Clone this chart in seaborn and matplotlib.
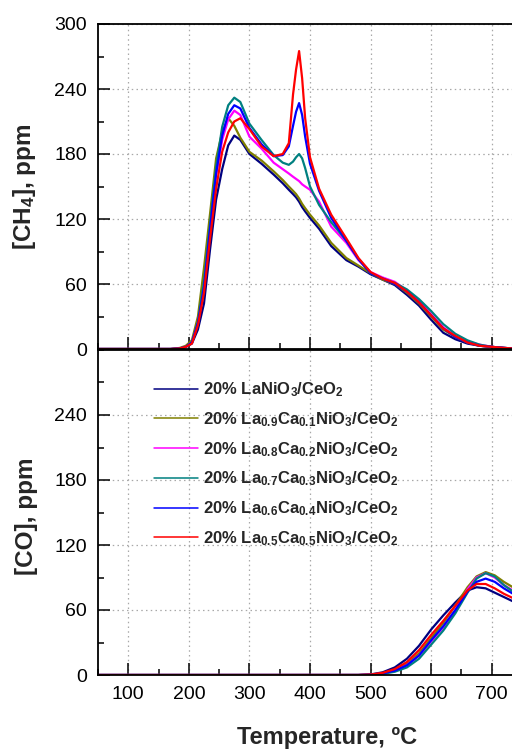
import matplotlib
matplotlib.use('Agg')
import matplotlib.pyplot as plt
from matplotlib.ticker import MultipleLocator
import pandas as pd
import seaborn as sns

# CH4 signal (top panel)
temp_ch4 = [50, 170, 185, 195, 205, 215, 225, 235, 245, 255, 265, 275, 285, 300, 320, 340, 355, 365,
            372, 377, 382, 387, 392, 400, 415, 435, 460, 480, 500, 520, 540, 560, 580, 600, 620, 640,
            660, 680, 700, 720, 735]
ch4_ca00 = [0, 0, 0.5, 2, 5, 18, 42, 92, 138, 166, 188, 197, 193, 180, 171, 161, 153, 147,
            143, 140, 136, 131, 127, 121, 111, 95, 82, 76, 69, 64, 59, 50, 40, 27, 15, 9,
            5, 3, 2, 1, 0.5]
ch4_ca01 = [0, 0, 1, 3, 8, 30, 75, 125, 176, 200, 213, 206, 195, 182, 174, 164, 156, 150,
            146, 143, 139, 134, 130, 124, 114, 98, 84, 77, 70, 64, 60, 52, 42, 30, 18, 11,
            6, 3, 2, 1, 0.5]
ch4_ca02 = [0, 0, 0.5, 2, 6, 24, 57, 110, 160, 193, 212, 220, 216, 196, 185, 172, 166, 162,
            159, 157, 155, 152, 150, 147, 136, 113, 98, 82, 71, 66, 62, 54, 44, 32, 20, 12,
            7, 4, 2, 1, 0.5]
ch4_ca03 = [0, 0, 0.5, 2, 6, 25, 62, 115, 168, 205, 225, 232, 228, 208, 193, 179, 172, 170,
            173, 177, 180, 176, 167, 150, 133, 117, 100, 83, 70, 65, 61, 55, 46, 35, 23, 14,
            8, 4, 2, 1, 0.5]
ch4_ca04 = [0, 0, 0.5, 2, 6, 24, 57, 111, 162, 197, 217, 225, 222, 204, 189, 178, 179, 187,
            206, 219, 227, 216, 196, 171, 146, 121, 100, 83, 70, 65, 60, 53, 43, 31, 19, 11,
            6, 3, 2, 1, 0.5]
ch4_ca05 = [0, 0, 0.5, 2, 5, 22, 52, 102, 148, 182, 200, 210, 213, 203, 187, 178, 180, 190,
            235, 258, 275, 250, 213, 177, 148, 124, 102, 84, 71, 65, 61, 53, 43, 31, 19, 12,
            6, 3, 2, 1, 0.5]

# CO signal (bottom panel)
temp_co = [50, 480, 500, 520, 540, 560, 580, 600, 620, 640, 660, 675, 690, 705, 720, 735]
co_ca00 = [0, 0, 0.5, 2.5, 7, 15, 27, 42, 55, 67, 78, 81, 80, 76, 72, 68]
co_ca01 = [0, 0, 0.3, 1.5, 4.5, 10, 20, 34, 48, 64, 81, 91, 95, 92, 86, 81]
co_ca02 = [0, 0, 0.3, 1.5, 4, 9, 18, 31, 44, 60, 79, 90, 94, 90, 83, 78]
co_ca03 = [0, 0, 0.2, 1, 3, 7, 15, 28, 41, 57, 76, 89, 94, 91, 83, 77]
co_ca04 = [0, 0, 0.3, 1.5, 4, 9, 18, 32, 45, 60, 77, 86, 89, 86, 80, 75]
co_ca05 = [0, 0, 0.4, 2, 5.5, 12, 23, 37, 50, 64, 78, 84, 84, 80, 75, 71]

samples = ['20% LaNiO$_3$/CeO$_2$',
           '20% La$_{0.9}$Ca$_{0.1}$NiO$_3$/CeO$_2$',
           '20% La$_{0.8}$Ca$_{0.2}$NiO$_3$/CeO$_2$',
           '20% La$_{0.7}$Ca$_{0.3}$NiO$_3$/CeO$_2$',
           '20% La$_{0.6}$Ca$_{0.4}$NiO$_3$/CeO$_2$',
           '20% La$_{0.5}$Ca$_{0.5}$NiO$_3$/CeO$_2$']
colors = ['#000080', '#808000', '#FF00FF', '#008080', '#0000FF', '#FF0000']

ch4_all = [ch4_ca00, ch4_ca01, ch4_ca02, ch4_ca03, ch4_ca04, ch4_ca05]
co_all = [co_ca00, co_ca01, co_ca02, co_ca03, co_ca04, co_ca05]

df_ch4 = pd.concat([pd.DataFrame({'T': temp_ch4, 'ppm': v, 'sample': s})
                    for s, v in zip(samples, ch4_all)], ignore_index=True)
df_co = pd.concat([pd.DataFrame({'T': temp_co, 'ppm': v, 'sample': s})
                   for s, v in zip(samples, co_all)], ignore_index=True)

sns.set_theme(style='ticks')
plt.rcParams['font.family'] = ['Liberation Sans', 'DejaVu Sans']
plt.rcParams['mathtext.fontset'] = 'custom'
plt.rcParams['mathtext.bf'] = 'Liberation Sans:bold'
plt.rcParams['mathtext.rm'] = 'Liberation Sans:bold'
plt.rcParams['mathtext.default'] = 'bf'

fig = plt.figure(figsize=(5.12, 7.5), dpi=100)
ax1 = fig.add_axes([98 / 512, 1 - 349 / 750, 424 / 512, 325 / 750])
ax2 = fig.add_axes([98 / 512, 1 - 675 / 750, 424 / 512, 325 / 750])

pal = dict(zip(samples, colors))
sns.lineplot(data=df_ch4, x='T', y='ppm', hue='sample', hue_order=samples, palette=pal,
             sort=False, estimator=None, lw=1.6, ax=ax1, legend=False)
sns.lineplot(data=df_co, x='T', y='ppm', hue='sample', hue_order=samples, palette=pal,
             sort=False, estimator=None, lw=1.6, ax=ax2)

for ax in (ax1, ax2):
    ax.set_xlim(50, 750)
    ax.set_ylim(0, 300)
    ax.xaxis.set_major_locator(MultipleLocator(100))
    ax.xaxis.set_minor_locator(MultipleLocator(50))
    ax.yaxis.set_major_locator(MultipleLocator(60))
    ax.yaxis.set_minor_locator(MultipleLocator(30))
    ax.tick_params(which='major', direction='in', length=8.5, width=1.1, labelsize=14, pad=8,
                   color='black', labelcolor='black')
    ax.tick_params(which='minor', direction='in', length=4.3, width=1.1, color='black')
    ax.grid(True, which='major', color='#a8a8a8', lw=0.9, linestyle=(0, (1.2, 2.6)))
    for sp in ax.spines.values():
        sp.set_color('black')
        sp.set_linewidth(1.3)
    ax.set_xlabel('')

ax1.tick_params(axis='x', labelbottom=False)
ax2.set_yticks([0, 60, 120, 180, 240])
ax2.set_xticks([100, 200, 300, 400, 500, 600, 700])

ax1.set_ylabel('[CH$_4$], ppm', fontsize=17.5, fontweight='bold')
ax2.set_ylabel('[CO], ppm', fontsize=17.5, fontweight='bold')
ax1.yaxis.set_label_coords(-0.142, 0.5)
ax2.yaxis.set_label_coords(-0.142, 0.487)
ax2.set_xlabel('Temperature, ºC', fontsize=17, fontweight='bold')
ax2.xaxis.set_label_coords((327.5 - 98) / 424, -0.158)

handles, labels = ax2.get_legend_handles_labels()
leg = ax2.legend(handles, labels, loc='upper left', bbox_to_anchor=(56 / 424, 0.906),
                 frameon=False, fontsize=12, handlelength=2.65, handletextpad=0.3,
                 labelspacing=0.66, borderpad=0, borderaxespad=0)
for t in leg.get_texts():
    t.set_fontweight('bold')
for line in leg.get_lines():
    line.set_linewidth(1.1)

fig.savefig('out.png', dpi=100)
